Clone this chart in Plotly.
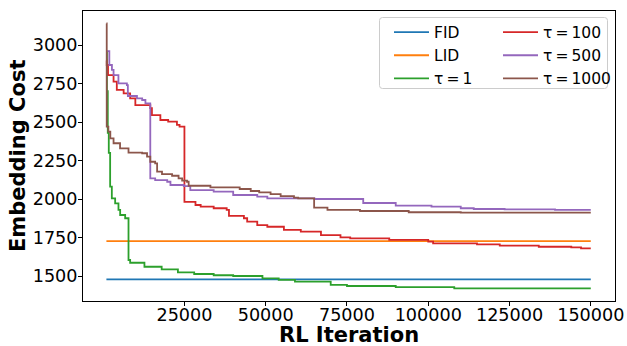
import plotly.graph_objects as go

# ---- data ----
fid_x = [1000, 150000]
fid_y = [1478, 1478]

lid_x = [1000, 150000]
lid_y = [1727, 1727]

tau1_x = [1000, 1150, 1420, 1730, 2150, 2670, 3690, 4710, 5230, 6770, 7800, 8300, 12700,
          18000, 23000, 28000, 34000, 40000, 49000, 54000, 59000, 70000, 75000, 90000,
          108000, 150000]
tau1_y = [2950, 2700, 2430, 2300, 2080, 2004, 1972, 1929, 1896, 1875, 1604, 1586, 1560,
          1543, 1524, 1513, 1505, 1500, 1485, 1475, 1463, 1442, 1435, 1428,
          1420, 1420]

tau100_x = [1000, 1100, 1500, 3200, 4200, 6300, 8300, 9900, 14500, 15000, 17600, 20000,
            22700, 23500, 25000, 28400, 30000, 34000, 38000, 38700, 43300, 44300, 47400,
            50500, 55600, 60800, 67000, 73000, 76000, 88000, 100000, 101500, 115000,
            122000, 134000, 144000, 147000, 150000]
tau100_y = [2900, 2870, 2805, 2762, 2708, 2686, 2654, 2610, 2590, 2545, 2513, 2502,
            2481, 2470, 1982, 1961, 1950, 1940, 1929, 1890, 1875, 1853, 1831,
            1820, 1799, 1788, 1766, 1751, 1745, 1734, 1723, 1712, 1706,
            1697, 1690, 1686, 1680, 1680]

tau500_x = [1000, 1900, 2700, 3200, 4700, 7300, 7600, 10400, 12000, 13000, 14500, 16000,
            19700, 20700, 24800, 26800, 34000, 40000, 47400, 50500, 65000, 80000, 90000,
            101000, 110000, 114000, 123500, 139000, 150000]
tau500_y = [2960, 2870, 2838, 2805, 2751, 2740, 2669, 2654, 2643, 2621, 2134, 2123,
            2112, 2091, 2084, 2058, 2048, 2026, 2015, 2004, 2000, 1974, 1957,
            1950, 1940, 1935, 1933, 1929, 1929]

tau1000_x = [1000, 1100, 1600, 2200, 3200, 5200, 7800, 12000, 13500, 14500, 16000, 16600,
             18100, 21200, 23200, 24300, 25800, 26300, 33000, 42000, 45400, 48000, 51500,
             54600, 58700, 60000, 64900, 69000, 79000, 94000, 110000, 150000]
tau1000_y = [3140, 2470, 2437, 2394, 2362, 2329, 2301, 2297, 2275, 2242, 2232, 2178,
             2162, 2151, 2134, 2119, 2112, 2086, 2076, 2065, 2052, 2043, 2032,
             2019, 2009, 2004, 1944, 1929, 1922, 1914, 1911, 1911]

x_ticks = [25000, 50000, 75000, 100000, 125000, 150000]
y_ticks = [1500, 1750, 2000, 2250, 2500, 2750, 3000]

x_title = "RL Iteration"
y_title = "Embedding Cost"

TS = "\u2009"
series = [
    ("FID", fid_x, fid_y, "#1f77b4", "legend"),
    ("LID", lid_x, lid_y, "#ff7f0e", "legend"),
    (f"τ{TS}={TS}1", tau1_x, tau1_y, "#2ca02c", "legend"),
    (f"τ{TS}={TS}100", tau100_x, tau100_y, "#d62728", "legend2"),
    (f"τ{TS}={TS}500", tau500_x, tau500_y, "#9467bd", "legend2"),
    (f"τ{TS}={TS}1000", tau1000_x, tau1000_y, "#8c564b", "legend2"),
]

FONT = "DejaVu Sans"
TICK_SIZE = 17.6
fig = go.Figure()
for name, xs, ys, col, lg in series:
    fig.add_trace(go.Scatter(x=xs, y=ys, mode="lines", name=name,
                             line=dict(color=col, width=1.8, shape="hv"),
                             legend=lg))

W, H = 627, 346
ml, mr, mt, mb = 83, 12, 11, 45
pw, ph = W - ml - mr, H - mt - mb

def px2paper_x(px):
    return (px - ml) / pw

def px2paper_y(py):
    return (H - mb - py) / ph

# legend frame (rounded rectangle)
x0, x1 = px2paper_x(379.5), px2paper_x(607.5)
y0, y1 = px2paper_y(88.5), px2paper_y(17.5)
rx, ry = 3 / pw, 3 / ph
path = (f"M{x0+rx},{y1} L{x1-rx},{y1} Q{x1},{y1} {x1},{y1-ry} "
        f"L{x1},{y0+ry} Q{x1},{y0} {x1-rx},{y0} L{x0+rx},{y0} "
        f"Q{x0},{y0} {x0},{y0+ry} L{x0},{y1-ry} Q{x0},{y1} {x0+rx},{y1} Z")

legend_common = dict(font=dict(family=FONT, size=15.5, color="black"),
                     bgcolor="rgba(0,0,0,0)", borderwidth=0, itemwidth=35,
                     xanchor="left", yanchor="top", tracegroupgap=0)

title_font = dict(family=FONT, size=21, color="black", weight="bold")

fig.update_layout(
    width=W, height=H,
    margin=dict(l=ml, r=mr, t=mt, b=mb, autoexpand=False),
    paper_bgcolor="white", plot_bgcolor="white",
    font=dict(family=FONT, size=TICK_SIZE, color="black"),
    showlegend=True,
    legend=dict(x=px2paper_x(389), y=px2paper_y(15.5), **legend_common),
    legend2=dict(x=px2paper_x(498), y=px2paper_y(15.5), **legend_common),
    shapes=[dict(type="path", xref="paper", yref="paper", path=path,
                 fillcolor="rgba(255,255,255,0.8)",
                 line=dict(color="#cccccc", width=1), layer="above")],
    annotations=[
        dict(text=x_title, xref="paper", yref="paper",
             x=px2paper_x(349), y=px2paper_y(335), xanchor="center", yanchor="middle",
             showarrow=False, font=title_font),
        dict(text=y_title, xref="paper", yref="paper", textangle=-90,
             x=px2paper_x(18), y=px2paper_y(156), xanchor="center", yanchor="middle",
             showarrow=False, font=title_font),
    ],
    xaxis=dict(range=[-6200, 157450], tickvals=x_ticks,
               ticktext=[str(v) for v in x_ticks], automargin=False,
               tickangle=0, ticklabeloverflow="allow", ticklabelstandoff=-6,
               showgrid=False, zeroline=False,
               showline=True, mirror=True, linecolor="black", linewidth=1,
               ticks="outside", ticklen=4, tickwidth=1, tickcolor="black",
               tickfont=dict(family=FONT, size=TICK_SIZE, color="black")),
    yaxis=dict(range=[1337.7, 3220.8], tickvals=y_ticks,
               ticktext=[str(v) for v in y_ticks], automargin=False,
               ticklabeloverflow="allow", ticklabelstandoff=-3,
               showgrid=False, zeroline=False,
               showline=True, mirror=True, linecolor="black", linewidth=1,
               ticks="outside", ticklen=4, tickwidth=1, tickcolor="black",
               tickfont=dict(family=FONT, size=TICK_SIZE, color="black")),
)

fig.write_html("out.html")
